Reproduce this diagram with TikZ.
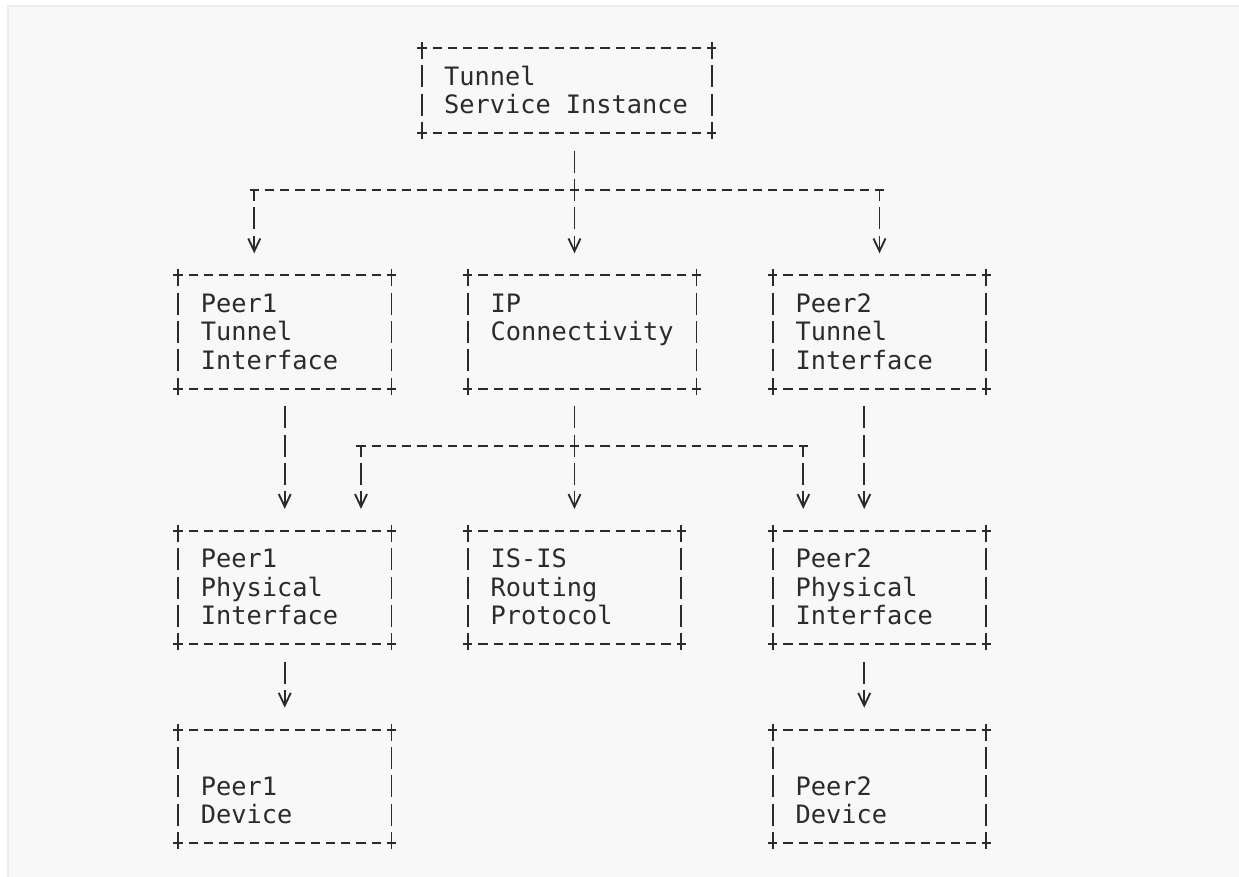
\documentclass[tikz,border=0pt]{standalone}
\usepackage{fontspec}
\newfontfamily\asciifont[WordSpace={1,0,0}]{DejaVu Sans Mono}
\usetikzlibrary{arrows.meta}

\definecolor{ink}{HTML}{2B2B2B}
\definecolor{pagebg}{HTML}{F8F8F8}
\definecolor{pageedge}{HTML}{ECECEC}

% one text row of the diagram
\newcommand{\rs}{\rule[-4.1pt]{0pt}{21.3pt}}
% one character cell
\newcommand{\cell}{\hspace{0.602em}}
% the four sides of a box
\newcommand{\asciiframe}[1]{%
  \draw[hline] (#1.north west) -- (#1.north east);
  \draw[hline] (#1.south west) -- (#1.south east);
  \draw[vside] (#1.north west) -- (#1.south west);
  \draw[vside] (#1.north east) -- (#1.south east);
}

\begin{document}
\begin{tikzpicture}[x=11.4375pt, y=-21.3pt,
    asciibox/.style={rectangle, inner xsep=17.16pt, inner ysep=0pt, outer sep=0pt,
      align=left, text=ink, font=\asciifont\fontsize{19pt}{21.3pt}\selectfont,
      text width=125.8pt, minimum height=85.2pt},
    hline/.style={ink, line width=1.4pt, dash pattern=on 6.975pt off 4.4625pt, dash phase=0pt,
      shorten <=-3.4875pt, shorten >=-3.4875pt},
    vline/.style={ink, line width=1.4pt, dash pattern=on 16.5pt off 4.8pt, dash phase=8.25pt},
    vside/.style={vline, dash phase=3.75pt, shorten <=-4.5pt, shorten >=-4.5pt},
    vlink/.style={vline, dash phase=18.9pt, shorten <=10.65pt},
    vhead/.style={-{Straight Barb[length=9.5pt,width=9pt]}, shorten >=16.4pt}]
	\useasboundingbox[fill=white] (-11.672,-1.690) rectangle (69.574,29.190);
	\draw[pageedge, fill=pagebg, line width=1.5pt] (-11.15,-1.48) rectangle (72,31);

	% boxes
	\node[asciibox, inner xsep=16.5pt, text width=184.31pt, minimum height=63.9pt] (tsi) at (25.5,1.5) {\rs Tunnel\\\rs Service\cell Instance};
	\node[asciibox] (p1t) at (7,10) {\rs Peer1\\\rs Tunnel\\\rs Interface};
	\node[asciibox, text width=137.24pt] (ipc) at (26.5,10) {\rs IP\\\rs Connectivity\\\rs};
	\node[asciibox] (p2t) at (46,10) {\rs Peer2\\\rs Tunnel\\\rs Interface};
	\node[asciibox] (p1p) at (7,19) {\rs Peer1\\\rs Physical\\\rs Interface};
	\node[asciibox] (isis) at (26,19) {\rs IS-IS\\\rs Routing\\\rs Protocol};
	\node[asciibox] (p2p) at (46,19) {\rs Peer2\\\rs Physical\\\rs Interface};
	\node[asciibox] (p1d) at (7,26) {\rs\\\rs Peer1\\\rs Device};
	\node[asciibox] (p2d) at (46,26) {\rs\\\rs Peer2\\\rs Device};
	\foreach \b in {tsi,p1t,ipc,p2t,p1p,isis,p2p,p1d,p2d}{
		\asciiframe{\b}
	}

	% branch points
	\coordinate (jl) at (5,5);
	\coordinate (jc) at (26,5);
	\coordinate (jr) at (46,5);
	\coordinate (kl) at (12,14);
	\coordinate (kc) at (26,14);
	\coordinate (kr) at (41,14);

	% first level
	\draw[vline, shorten >=10.65pt] (jc) -- (jc |- tsi.south);
	\draw[hline] (jl) -- (jr);
	\draw[vline, vhead] (jl) -- (jl |- p1t.north);
	\draw[vline, vhead] (jc) -- (jc |- ipc.north);
	\draw[vline, vhead] (jr) -- (jr |- p2t.north);

	% second level
	\draw[vlink, vhead] (p1t.south) -- (p1p.north);
	\draw[vline, shorten >=10.65pt] (kc) -- (kc |- ipc.south);
	\draw[hline] (kl) -- (kr);
	\draw[vline, vhead] (kl) -- (kl |- p1p.north);
	\draw[vline, vhead] (kc) -- (isis.north);
	\draw[vline, vhead] (kr) -- (kr |- p2p.north);
	\draw[vlink, vhead] ([xshift=-11.4375pt]p2t.south) -- ([xshift=-11.4375pt]p2p.north);

	% devices
	\draw[vlink, vhead] (p1p.south) -- (p1d.north);
	\draw[vlink, vhead] ([xshift=-11.4375pt]p2p.south) -- ([xshift=-11.4375pt]p2d.north);
\end{tikzpicture}
\end{document}
